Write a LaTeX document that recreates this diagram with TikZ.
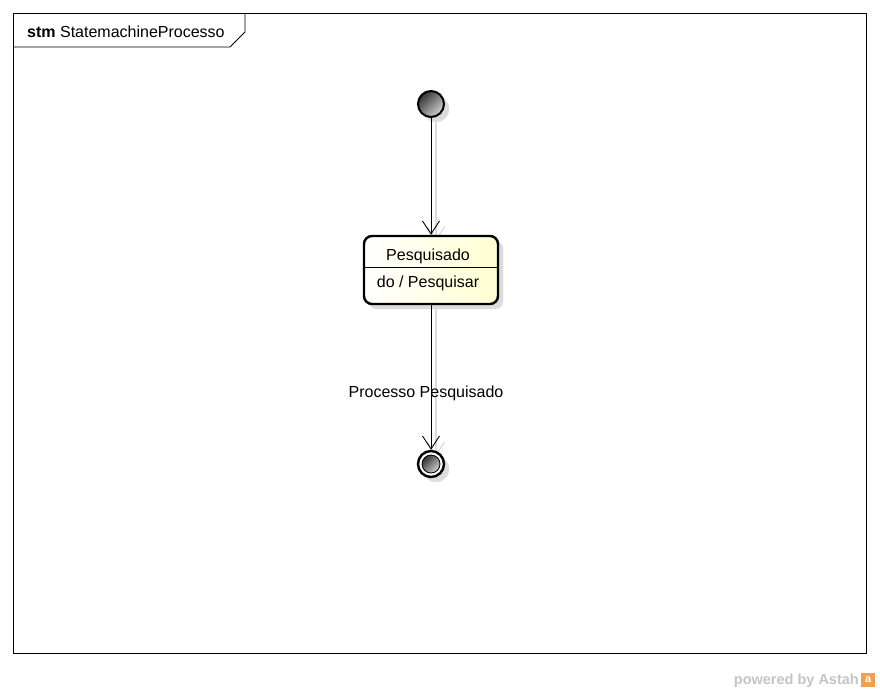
\documentclass[tikz,border=0pt]{standalone}
\usepackage{fontspec}
\setmainfont{Liberation Sans}
\usetikzlibrary{arrows.meta}

\definecolor{statefill}{HTML}{FFFFD2}
\definecolor{shadowgray}{HTML}{DCDCDC}
\definecolor{astahgray}{HTML}{C4C4C4}
\definecolor{astahorange}{HTML}{F0A050}

\tikzset{
  umltext/.style={font=\fontsize{16}{19}\selectfont, inner sep=0pt},
  shadowed/.style={draw=shadowgray, fill=shadowgray},
  initstate/.style={circle, draw, line width=2pt, minimum size=26pt, inner sep=0pt,
    left color=black!80, right color=gray!35, shading angle=45},
  finalring/.style={circle, draw, line width=2.4pt, fill=white, minimum size=26pt, inner sep=0pt},
  finaldot/.style={circle, draw, line width=0.8pt, minimum size=18pt, inner sep=0pt,
    left color=black!80, right color=gray!35, shading angle=45},
  statebox/.style={rectangle, rounded corners=8pt, draw, line width=2.4pt,
    minimum width=134pt, minimum height=68pt, left color=white, right color=statefill},
  transition/.style={line width=0.9pt, -{Straight Barb[length=13pt, width=17pt, line width=0.9pt]}},
  shadowline/.style={draw=shadowgray, line width=1.2pt, -{Straight Barb[length=13pt, width=17pt, line width=1.2pt]}}
}

\begin{document}
\begin{tikzpicture}
  \tikzset{x={(1pt,0pt)}, y={(0pt,-1pt)}}
  \useasboundingbox (0,0) rectangle (880,693);

  % frame and its name tab
  \draw[line width=0.9pt] (13,13) rectangle (866,653);
  \draw[line width=0.9pt] (13,47) -- (230,47) -- (245,32) -- (245,13);
  \node[umltext, anchor=west] (frametitle) at (27,32) {\textbf{stm} StatemachineProcesso};

  % shadows
  \node[shadowed, circle, minimum size=26pt, inner sep=0pt] (initshadow) at (436,109) {};
  \node[shadowed, rectangle, rounded corners=8pt, minimum width=134pt, minimum height=68pt] (pesqshadow) at (436,275) {};
  \node[shadowed, circle, minimum size=26pt, inner sep=0pt] (finalshadow) at (436,469) {};
  \coordinate (initshadowout) at (436,117);
  \coordinate (pesqshadowin) at (436,241);
  \coordinate (pesqshadowout) at (436,309);
  \coordinate (finalshadowin) at (436,456);
  \draw[shadowline] (initshadowout) -- (pesqshadowin);
  \draw[shadowline] (pesqshadowout) -- (finalshadowin);

  % states
  \node[initstate] (init) at (431,104) {};
  \node[statebox] (pesq) at (431,270) {};
  \node[umltext] (pesqname) at (428,256) {Pesquisado};
  \node[umltext] (pesqdo) at (428,283) {do / Pesquisar};
  \draw[line width=0.9pt] (pesq.west |- 0,267) -- (pesq.east |- 0,267);
  \node[finalring] (final) at (431,464) {};
  \node[finaldot] (finaldot) at (431,464) {};

  % transitions
  \draw[transition] (init) -- (pesq);
  \draw[transition] (pesq) -- (final);
  \node[umltext] (trlabel) at (426,393) {Processo Pesquisado};

  % watermark
  \node[font=\fontsize{14.5}{16}\selectfont\bfseries, text=astahgray, anchor=east, inner sep=0pt]
    (powered) at (859,681) {powered by Astah};
  \node[fill=astahorange, minimum size=14pt, inner sep=0pt, anchor=west,
    font=\fontsize{11}{11}\selectfont\bfseries, text=white] (astahlogo) at (861,680) {a};
\end{tikzpicture}
\end{document}
